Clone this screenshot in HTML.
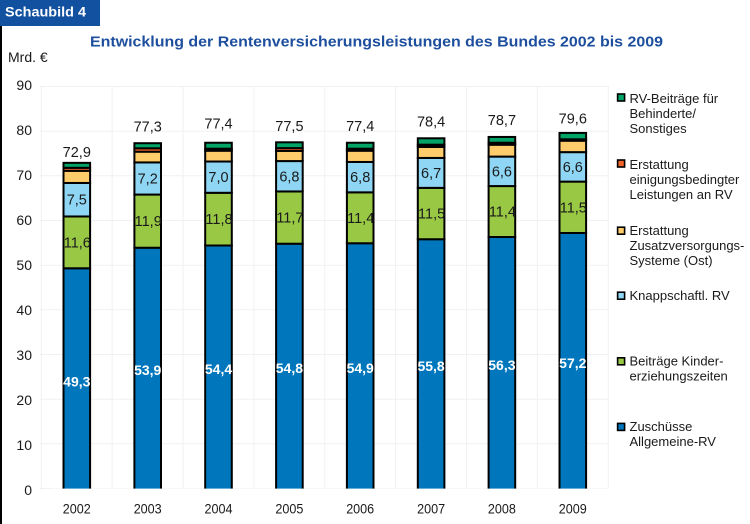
<!DOCTYPE html>
<html><head><meta charset="utf-8">
<style>
html,body{margin:0;padding:0;background:#fff;}
svg{display:block;}
text{font-family:"Liberation Sans",Arial,sans-serif;}
</style></head>
<body>
<svg width="750" height="524" viewBox="0 0 750 524" xmlns="http://www.w3.org/2000/svg">
<rect width="750" height="524" fill="#fff"/>
<!-- header box -->
<rect x="0" y="0" width="100" height="26" fill="#1250a0"/>
<text x="5" y="16.7" font-size="14" font-weight="bold" fill="#fff" textLength="81" lengthAdjust="spacingAndGlyphs">Schaubild 4</text>
<rect x="0" y="26" width="2" height="498" fill="#000"/>
<!-- title -->
<text x="90" y="46.7" font-size="15" font-weight="bold" fill="#1d4f9e" textLength="573" lengthAdjust="spacingAndGlyphs">Entwicklung der Rentenversicherungsleistungen des Bundes 2002 bis 2009</text>
<text x="8" y="62" font-size="14" fill="#1a1a1a">Mrd. €</text>

<!-- faint grid -->
<g stroke="#f1f1f1" stroke-width="1">
<line x1="40" y1="488.5" x2="609" y2="488.5"/>
<line x1="40" y1="443.8" x2="609" y2="443.8"/>
<line x1="40" y1="399.2" x2="609" y2="399.2"/>
<line x1="40" y1="354.5" x2="609" y2="354.5"/>
<line x1="40" y1="309.8" x2="609" y2="309.8"/>
<line x1="40" y1="265.2" x2="609" y2="265.2"/>
<line x1="40" y1="220.5" x2="609" y2="220.5"/>
<line x1="40" y1="175.8" x2="609" y2="175.8"/>
<line x1="40" y1="131.2" x2="609" y2="131.2"/>
<line x1="40" y1="86.5" x2="609" y2="86.5"/>
<line x1="41.4" y1="86.5" x2="41.4" y2="490"/>
<line x1="112.2" y1="86.5" x2="112.2" y2="490"/>
<line x1="183.1" y1="86.5" x2="183.1" y2="490"/>
<line x1="254" y1="86.5" x2="254" y2="490"/>
<line x1="324.8" y1="86.5" x2="324.8" y2="490"/>
<line x1="395.6" y1="86.5" x2="395.6" y2="490"/>
<line x1="466.5" y1="86.5" x2="466.5" y2="490"/>
<line x1="537.4" y1="86.5" x2="537.4" y2="490"/>
<line x1="608.3" y1="86.5" x2="608.3" y2="490"/>
</g>

<!-- y axis labels -->
<g font-size="14" fill="#1a1a1a" text-anchor="end">
<text x="32" y="495">0</text>
<text x="32" y="450">10</text>
<text x="32" y="405">20</text>
<text x="32" y="360">30</text>
<text x="32" y="315">40</text>
<text x="32" y="270">50</text>
<text x="32" y="225">60</text>
<text x="32" y="180">70</text>
<text x="32" y="135">80</text>
<text x="32" y="90">90</text>
</g>

<!-- bars -->
<g stroke="#000" stroke-width="2">
<!-- 2002 -->
<rect x="63.5" y="268.28" width="26.6" height="221.72" fill="#0077bd"/>
<rect x="63.5" y="216.46" width="26.6" height="51.82" fill="#99c845"/>
<rect x="63.5" y="182.96" width="26.6" height="33.5" fill="#8ed6f3"/>
<rect x="63.5" y="170.81" width="26.6" height="12.15" fill="#ffcc6b"/>
<rect x="63.5" y="167.81" width="26.6" height="3.0" fill="#f0642d"/>
<rect x="63.5" y="162.86" width="26.6" height="4.95" fill="#00a466"/>
<!-- 2003 -->
<rect x="134.4" y="247.73" width="26.6" height="242.27" fill="#0077bd"/>
<rect x="134.4" y="194.57" width="26.6" height="53.16" fill="#99c845"/>
<rect x="134.4" y="162.41" width="26.6" height="32.16" fill="#8ed6f3"/>
<rect x="134.4" y="151.69" width="26.6" height="10.72" fill="#ffcc6b"/>
<rect x="134.4" y="148.29" width="26.6" height="3.4" fill="#f0642d"/>
<rect x="134.4" y="143.2" width="26.6" height="5.09" fill="#00a466"/>
<!-- 2004 -->
<rect x="205.2" y="245.5" width="26.6" height="244.5" fill="#0077bd"/>
<rect x="205.2" y="192.78" width="26.6" height="52.72" fill="#99c845"/>
<rect x="205.2" y="161.52" width="26.6" height="31.26" fill="#8ed6f3"/>
<rect x="205.2" y="150.71" width="26.6" height="10.81" fill="#ffcc6b"/>
<rect x="205.2" y="148.7" width="26.6" height="2.01" fill="#000"/>
<rect x="205.2" y="142.75" width="26.6" height="5.95" fill="#00a466"/>
<!-- 2005 -->
<rect x="276.1" y="243.71" width="26.6" height="246.29" fill="#0077bd"/>
<rect x="276.1" y="191.44" width="26.6" height="52.27" fill="#99c845"/>
<rect x="276.1" y="161.07" width="26.6" height="30.37" fill="#8ed6f3"/>
<rect x="276.1" y="150.88" width="26.6" height="10.19" fill="#ffcc6b"/>
<rect x="276.1" y="148.11" width="26.6" height="2.77" fill="#f0642d"/>
<rect x="276.1" y="142.31" width="26.6" height="5.8" fill="#00a466"/>
<!-- 2006 -->
<rect x="346.9" y="243.26" width="26.6" height="246.74" fill="#0077bd"/>
<rect x="346.9" y="192.34" width="26.6" height="50.92" fill="#99c845"/>
<rect x="346.9" y="161.96" width="26.6" height="30.38" fill="#8ed6f3"/>
<rect x="346.9" y="150.71" width="26.6" height="11.25" fill="#ffcc6b"/>
<rect x="346.9" y="148.7" width="26.6" height="2.01" fill="#000"/>
<rect x="346.9" y="142.75" width="26.6" height="5.95" fill="#00a466"/>
<!-- 2007 -->
<rect x="417.8" y="239.24" width="26.6" height="250.76" fill="#0077bd"/>
<rect x="417.8" y="187.87" width="26.6" height="51.37" fill="#99c845"/>
<rect x="417.8" y="157.94" width="26.6" height="29.93" fill="#8ed6f3"/>
<rect x="417.8" y="147.0" width="26.6" height="10.94" fill="#ffcc6b"/>
<rect x="417.8" y="144.67" width="26.6" height="2.33" fill="#000"/>
<rect x="417.8" y="138.29" width="26.6" height="6.38" fill="#00a466"/>
<!-- 2008 -->
<rect x="488.6" y="237.01" width="26.6" height="252.99" fill="#0077bd"/>
<rect x="488.6" y="186.08" width="26.6" height="50.93" fill="#99c845"/>
<rect x="488.6" y="156.6" width="26.6" height="29.48" fill="#8ed6f3"/>
<rect x="488.6" y="144.72" width="26.6" height="11.88" fill="#ffcc6b"/>
<rect x="488.6" y="142.71" width="26.6" height="2.01" fill="#000"/>
<rect x="488.6" y="136.95" width="26.6" height="5.76" fill="#00a466"/>
<!-- 2009 -->
<rect x="559.5" y="232.99" width="26.6" height="257.01" fill="#0077bd"/>
<rect x="559.5" y="181.62" width="26.6" height="51.37" fill="#99c845"/>
<rect x="559.5" y="152.13" width="26.6" height="29.49" fill="#8ed6f3"/>
<rect x="559.5" y="140.7" width="26.6" height="11.43" fill="#ffcc6b"/>
<rect x="559.5" y="139.31" width="26.6" height="1.39" fill="#000"/>
<rect x="559.5" y="132.93" width="26.6" height="6.38" fill="#00a466"/>
</g>
<!-- cover bottom stroke -->
<rect x="50" y="488.6" width="560" height="6" fill="#fff"/>

<!-- total labels -->
<g font-size="14.5" fill="#1a1a1a" text-anchor="middle">
<text x="76.8" y="157">72,9</text>
<text x="147.7" y="131.7">77,3</text>
<text x="218.5" y="128.3">77,4</text>
<text x="289.4" y="131">77,5</text>
<text x="360.2" y="131">77,4</text>
<text x="431.1" y="126.5">78,4</text>
<text x="501.9" y="125">78,7</text>
<text x="572.8" y="123.3">79,6</text>
</g>
<!-- light blue labels -->
<g font-size="14.5" fill="#1a1a1a" text-anchor="middle">
<text x="76.8" y="204.7">7,5</text>
<text x="147.7" y="183.5">7,2</text>
<text x="218.5" y="182.1">7,0</text>
<text x="289.4" y="181.3">6,8</text>
<text x="360.2" y="182.1">6,8</text>
<text x="431.1" y="177.9">6,7</text>
<text x="501.9" y="176.3">6,6</text>
<text x="572.8" y="171.9">6,6</text>
</g>
<!-- green labels -->
<g font-size="14.5" fill="#1a1a1a" text-anchor="middle">
<text x="77.3" y="247.4">11,6</text>
<text x="148.2" y="226.2">11,9</text>
<text x="219" y="224.1">11,8</text>
<text x="289.9" y="222.6">11,7</text>
<text x="360.7" y="222.8">11,4</text>
<text x="431.6" y="218.6">11,5</text>
<text x="502.4" y="216.5">11,4</text>
<text x="573.3" y="212.3">11,5</text>
</g>
<!-- blue labels -->
<g font-size="14" font-weight="bold" fill="#fff" text-anchor="middle">
<text x="76.8" y="386.4">49,3</text>
<text x="147.7" y="375.1">53,9</text>
<text x="218.5" y="374">54,4</text>
<text x="289.4" y="373.1">54,8</text>
<text x="360.2" y="372.9">54,9</text>
<text x="431.1" y="370.9">55,8</text>
<text x="501.9" y="369.8">56,3</text>
<text x="572.8" y="367.8">57,2</text>
</g>

<!-- x labels -->
<g font-size="14" fill="#1a1a1a" text-anchor="middle">
<text x="76.8" y="513.5" textLength="28" lengthAdjust="spacingAndGlyphs">2002</text>
<text x="147.7" y="513.5" textLength="28" lengthAdjust="spacingAndGlyphs">2003</text>
<text x="218.5" y="513.5" textLength="28" lengthAdjust="spacingAndGlyphs">2004</text>
<text x="289.4" y="513.5" textLength="28" lengthAdjust="spacingAndGlyphs">2005</text>
<text x="360.2" y="513.5" textLength="28" lengthAdjust="spacingAndGlyphs">2006</text>
<text x="431.1" y="513.5" textLength="28" lengthAdjust="spacingAndGlyphs">2007</text>
<text x="501.9" y="513.5" textLength="28" lengthAdjust="spacingAndGlyphs">2008</text>
<text x="572.8" y="513.5" textLength="28" lengthAdjust="spacingAndGlyphs">2009</text>
</g>

<!-- legend -->
<g stroke="#000" stroke-width="1.6">
<rect x="617.6" y="94" width="7" height="7" fill="#00a466"/>
<rect x="617.6" y="160" width="7" height="7" fill="#f0642d"/>
<rect x="617.6" y="227.2" width="7" height="7" fill="#ffcc6b"/>
<rect x="617.6" y="292.2" width="7" height="7" fill="#8ed6f3"/>
<rect x="617.6" y="357.8" width="7" height="7" fill="#99c845"/>
<rect x="617.6" y="423.4" width="7" height="7" fill="#0077bd"/>
</g>
<g font-size="13" fill="#1a1a1a">
<text x="629.5" y="103">RV-Beiträge für</text>
<text x="629.5" y="118">Behinderte/</text>
<text x="629.5" y="133">Sonstiges</text>
<text x="629.5" y="169">Erstattung</text>
<text x="629.5" y="184">einigungsbedingter</text>
<text x="629.5" y="199">Leistungen an RV</text>
<text x="629.5" y="235">Erstattung</text>
<text x="629.5" y="250">Zusatzversorgungs-</text>
<text x="629.5" y="265">Systeme (Ost)</text>
<text x="629.5" y="300">Knappschaftl. RV</text>
<text x="629.5" y="365.5">Beiträge Kinder-</text>
<text x="629.5" y="380.5">erziehungszeiten</text>
<text x="629.5" y="431">Zuschüsse</text>
<text x="629.5" y="446">Allgemeine-RV</text>
</g>
</svg>
</body></html>
